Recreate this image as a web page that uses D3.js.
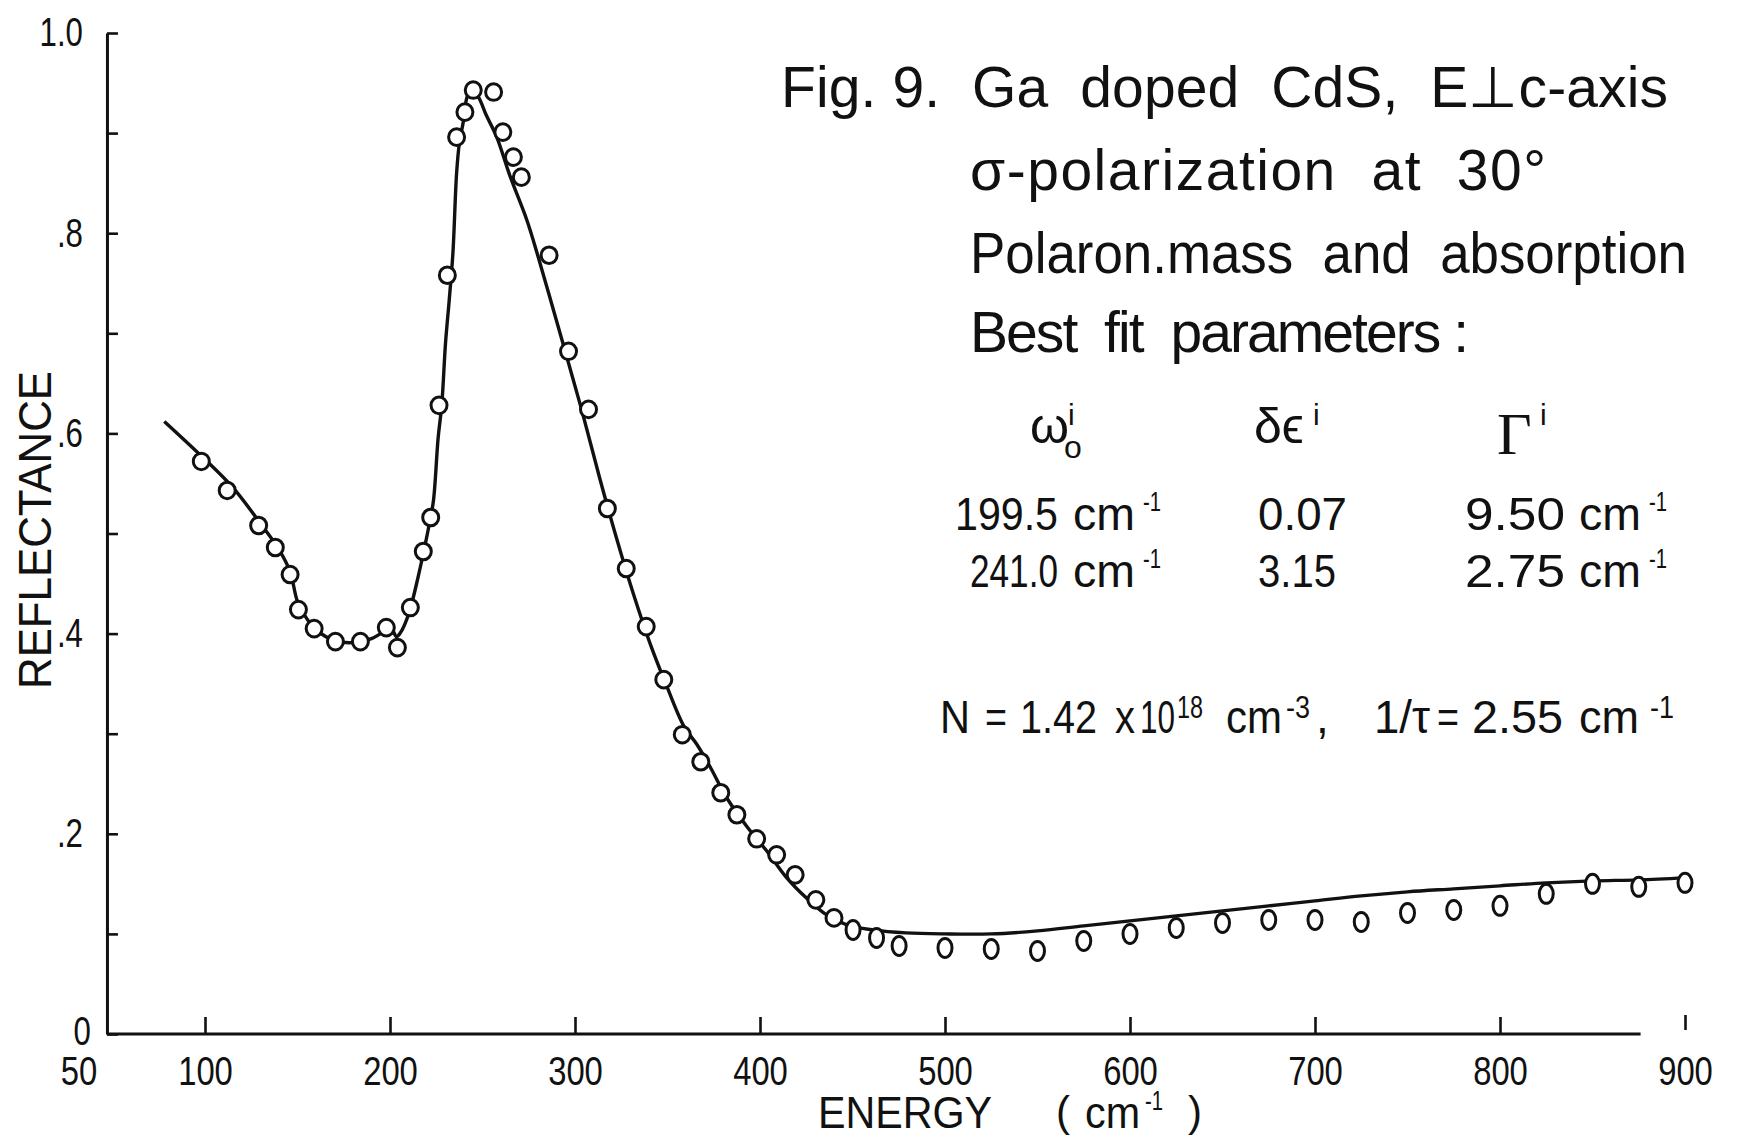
<!DOCTYPE html>
<html>
<head>
<meta charset="utf-8">
<script src="https://cdn.jsdelivr.net/npm/d3@7"></script>
<style>
body { margin: 0; background: #fff; }
text { font-family: "Liberation Sans", Arial, sans-serif; fill: #111; white-space: pre; }
</style>
</head>
<body>
<script>
// measured reflectance points (open circles)
var pointEnergy = [98, 112, 129, 138, 146, 150.5, 159, 170.5, 184, 198, 204, 211, 218, 222, 226.5, 231, 236, 240.5, 245, 256,
  261, 266.7, 271, 286, 296.5, 307.3, 317.5, 327.7, 338.5, 348, 358, 368, 378.8, 387.5, 398.2, 409, 419, 430.2, 440, 450.3,
  463, 475.2, 500, 525, 550, 575, 600, 625, 650, 675, 700, 725, 750, 775, 800, 825, 850, 875, 900];
var pointReflect = [0.572, 0.543, 0.508, 0.486, 0.459, 0.424, 0.405, 0.392, 0.392, 0.406, 0.386, 0.426, 0.482, 0.516, 0.628, 0.758, 0.896, 0.921, 0.943, 0.941,
  0.901, 0.876, 0.856, 0.778, 0.682, 0.624, 0.525, 0.465, 0.407, 0.354, 0.299, 0.272, 0.241, 0.219, 0.195, 0.179, 0.159, 0.134, 0.116, 0.104,
  0.096, 0.088, 0.086, 0.085, 0.083, 0.093, 0.100, 0.106, 0.111, 0.114, 0.114, 0.112, 0.121, 0.124, 0.128, 0.140, 0.150, 0.147, 0.151];

// best fit curve
var fitEnergy = [78, 100, 115, 130, 140, 146, 150, 155, 160, 170, 180, 190, 197, 201, 203.5, 206, 209, 212, 215, 218,
  221.5, 223.5, 226, 228, 230, 232, 234, 236, 237.5, 239.6, 241.5, 243.5, 247.7, 252, 257.7, 264.9, 274, 280, 287, 294.7,
  303.4, 313.4, 322.5, 331.5, 340.6, 349.7, 359, 366, 373, 382, 393, 404, 414, 425, 436, 447, 461, 479, 500, 525,
  550, 575, 600, 625, 650, 675, 700, 725, 750, 775, 800, 825, 850, 875, 900];
var fitReflect = [0.612, 0.574, 0.546, 0.510, 0.484, 0.462, 0.432, 0.415, 0.404, 0.393, 0.391, 0.395, 0.402, 0.404, 0.397, 0.402, 0.414, 0.432, 0.455, 0.480,
  0.512, 0.533, 0.595, 0.629, 0.690, 0.733, 0.780, 0.860, 0.890, 0.911, 0.935, 0.943, 0.936, 0.918, 0.896, 0.857, 0.813, 0.777, 0.732, 0.682,
  0.625, 0.555, 0.495, 0.440, 0.390, 0.347, 0.307, 0.289, 0.267, 0.236, 0.207, 0.182, 0.157, 0.136, 0.119, 0.109, 0.104, 0.101, 0.100, 0.100,
  0.103, 0.108, 0.113, 0.118, 0.123, 0.128, 0.133, 0.138, 0.142, 0.145, 0.148, 0.151, 0.153, 0.154, 0.156];

var xTicks = [50, 100, 200, 300, 400, 500, 600, 700, 800, 900];
var yTicks = [0, 0.1, 0.2, 0.3, 0.4, 0.5, 0.6, 0.7, 0.8, 0.9, 1.0];
var yTickLabels = ["0", "", ".2", "", ".4", "", ".6", "", ".8", "", "1.0"];

var W = 1738, H = 1141;
var svg = d3.select("body").append("svg").attr("width", W).attr("height", H);
svg.append("rect").attr("width", W).attr("height", H).attr("fill", "#fff");

var x = d3.scaleLinear().domain([50, 900]).range([112.5, 1685]);
var y = d3.scaleLinear().domain([0, 1]).range([1034, 33]);
var font = "Liberation Sans, Arial, sans-serif";

// squeeze a text horizontally, the lettering is narrow
function narrow(sel, k) {
  sel.each(function() {
    var w = this.getComputedTextLength();
    if (w > 0) d3.select(this).attr("textLength", w * k).attr("lengthAdjust", "spacingAndGlyphs");
  });
}

// y axis, ticks inside
var gy = svg.append("g").attr("transform", "translate(" + x(47) + ",0)")
  .call(d3.axisLeft(y).tickValues(yTicks).tickSizeInner(-11).tickSizeOuter(0).tickPadding(24)
    .tickFormat(function(d, i) { return yTickLabels[i]; }));
gy.attr("font-family", font).attr("font-size", 40);
gy.select(".domain").attr("stroke", "#111").attr("stroke-width", 3);
gy.selectAll(".tick line").attr("stroke", "#111").attr("stroke-width", 2.6);
gy.selectAll(".tick text").attr("fill", "#111").filter(function(d) { return d === 0; }).attr("x", -16).attr("dy", "0.25em");
narrow(gy.selectAll(".tick text"), 0.78);

// x axis, ticks inside
var gx = svg.append("g").attr("transform", "translate(0," + y(0) + ")")
  .call(d3.axisBottom(x).tickValues(xTicks).tickSizeInner(-17).tickSizeOuter(0).tickPadding(23)
    .tickFormat(d3.format("d")));
gx.attr("font-family", font).attr("font-size", 40);
gx.select(".domain").remove();
gx.selectAll(".tick line").attr("stroke", "#111").attr("stroke-width", 2.6);
gx.selectAll(".tick text").attr("fill", "#111");
narrow(gx.selectAll(".tick text"), 0.82);
gx.selectAll(".tick").filter(function(d) { return d === 50; }).select("line").remove();
gx.selectAll(".tick").filter(function(d) { return d === 50; }).select("text").attr("dx", -34);
gx.selectAll(".tick").filter(function(d) { return d === 900; }).select("line").attr("y1", -4).attr("y2", -19);
gx.append("line").attr("x1", x(47)).attr("x2", x(876)).attr("stroke", "#111").attr("stroke-width", 3);

// fit curve
var fit = fitEnergy.map(function(e, i) { return [e, fitReflect[i]]; });
svg.append("path").datum(fit)
  .attr("fill", "none").attr("stroke", "#111").attr("stroke-width", 3.4).attr("stroke-linejoin", "round")
  .attr("d", d3.line().x(function(d) { return x(d[0]); }).y(function(d) { return y(d[1]); }).curve(d3.curveCatmullRom.alpha(0.5)));

// data points
var pts = pointEnergy.map(function(e, i) { return [e, pointReflect[i]]; });
svg.selectAll("ellipse.pt").data(pts).enter().append("ellipse")
  .attr("class", "pt")
  .attr("cx", function(d) { return x(d[0]); })
  .attr("cy", function(d) { return y(d[1]); })
  .attr("rx", function(d) { return d[0] >= 445 ? 7 : 8; })
  .attr("ry", function(d) { return d[0] >= 445 ? 9.5 : 8.3; })
  .attr("fill", "#fff").attr("stroke", "#111").attr("stroke-width", 3);

function txt(s, x0, y0, size, len, adj, fam) {
  var t = svg.append("text").attr("x", x0).attr("y", y0).attr("font-size", size).text(s);
  if (len) t.attr("textLength", len).attr("lengthAdjust", adj || "spacingAndGlyphs");
  if (fam) t.style("font-family", fam);
  return t;
}

// axis titles
svg.append("text").attr("transform", "translate(51,530) rotate(-90)")
  .attr("text-anchor", "middle").attr("font-size", 46)
  .attr("textLength", 318).attr("lengthAdjust", "spacingAndGlyphs")
  .text("REFLECTANCE");

txt("ENERGY", 818, 1128, 45, 174);
txt("(", 1056, 1126, 42);
txt("cm", 1085, 1128, 45, 55);
txt("-1", 1145, 1110, 27, 18);
txt(")", 1188, 1126, 42);

// annotation
txt("Fig. 9.  Ga  doped  CdS,  E\u22A5c-axis", 781, 107, 57, 887, "spacing");
txt("\u03C3-polarization  at  30\u00B0", 970, 190, 57, 576, "spacing");
txt("Polaron.mass  and  absorption", 970, 273, 57, 717);
txt("Best  fit  parameters :", 970, 352, 57, 499, "spacing");

txt("\u03C9", 1030, 443, 50);
txt("i", 1068, 425, 30);
txt("o", 1064, 458, 32);
txt("\u03B4\u03F5", 1254, 443, 50);
txt("i", 1313, 425, 30);
txt("\u0393", 1497, 454, 60, null, null, "Liberation Serif, serif");
txt("i", 1540, 425, 30);

function unit(xc, base) {
  txt("cm", xc, base, 47, 62);
  txt("-1", xc + 70, base - 19, 28, 18);
}
txt("199.5", 955, 530, 47, 103); unit(1073, 530);
txt("0.07", 1258, 530, 47, 89);
txt("9.50", 1465, 530, 47, 100); unit(1579, 530);
txt("241.0", 970, 587, 47, 88); unit(1073, 587);
txt("3.15", 1258, 587, 47, 78);
txt("2.75", 1465, 587, 47, 100); unit(1579, 587);

txt("N", 940, 733, 46, 30);
txt("=", 985, 733, 46, 22);
txt("1.42", 1020, 733, 46, 77);
txt("x", 1115, 733, 46, 20);
txt("10", 1140, 733, 46, 35);
txt("18", 1177, 718, 32, 26);
txt("cm", 1226, 733, 46, 56);
txt("-3", 1286, 718, 32, 24);
txt(",", 1316, 733, 46);
txt("1/\u03C4", 1374, 733, 46, 56);
txt("=", 1437, 733, 46, 22);
txt("2.55", 1472, 733, 46, 91);
txt("cm", 1579, 733, 46, 60);
txt("-1", 1650, 718, 32, 24);
</script>
</body>
</html>
